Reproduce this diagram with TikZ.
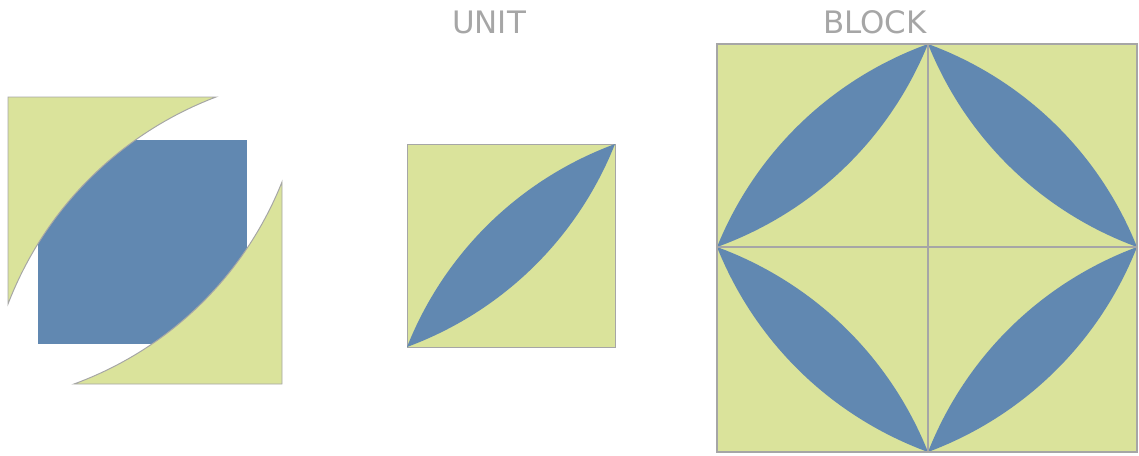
\documentclass[tikz,border=0pt]{standalone}
\usepackage{fontspec}
\setsansfont{DejaVu Sans}
\usetikzlibrary{calc}
\definecolor{quiltyellow}{HTML}{DAE39B}
\definecolor{quiltblue}{HTML}{6188B1}
\definecolor{seamgray}{HTML}{A6A6A6}

% circular arc from #1 to #2, bulging to the left of the way
\newcommand{\peelto}[2]{.. controls ($(#1)!0.35!24:(#2)$) and ($(#2)!0.35!-24:(#1)$) .. (#2)}

\begin{document}
\begin{tikzpicture}[
    x=0.025cm, y=0.025cm,
    patch/.style={fill=quiltyellow, draw=seamgray, line width=0.7pt},
    melon/.style={fill=quiltblue},
    caption/.style={font=\sffamily\fontsize{22}{26}\selectfont, text=seamgray, anchor=base}
]
\useasboundingbox (0,0) rectangle (1139,-455);

% cut pieces
\coordinate (tl1) at (216,-97);
\coordinate (tl2) at (8,-304);
\coordinate (br1) at (282,-182);
\coordinate (br2) at (74,-384);
\fill[melon] (38,-140) rectangle (247,-344);
\draw[patch] (tl1) -- (8,-97) -- (tl2) \peelto{tl2}{tl1} -- cycle;
\draw[patch] (br2) -- (282,-384) -- (br1) \peelto{br1}{br2} -- cycle;

% unit
\node[caption] (unit) at (489,-33) {UNIT};
\coordinate (ua) at (407,-347);
\coordinate (ub) at (615,-144);
\draw[patch] (407,-144) rectangle (615,-347);
\fill[melon] (ua) \peelto{ua}{ub} \peelto{ub}{ua};

% block
\node[caption] (block) at (875,-33) {BLOCK};
\coordinate (W) at (717,-247);
\coordinate (N) at (928,-44);
\coordinate (E) at (1137,-247);
\coordinate (S) at (928,-452);
\fill[quiltyellow] (717,-44) rectangle (1137,-452);
\foreach \a/\b in {W/N, N/E, W/S, S/E}
    \fill[melon] (\a) \peelto{\a}{\b} \peelto{\b}{\a};
\draw[seamgray, line width=0.9pt] (717,-44) rectangle (1137,-452);
\draw[seamgray, line width=0.9pt] (W) -- (E) (N) -- (S);
\end{tikzpicture}
\end{document}
